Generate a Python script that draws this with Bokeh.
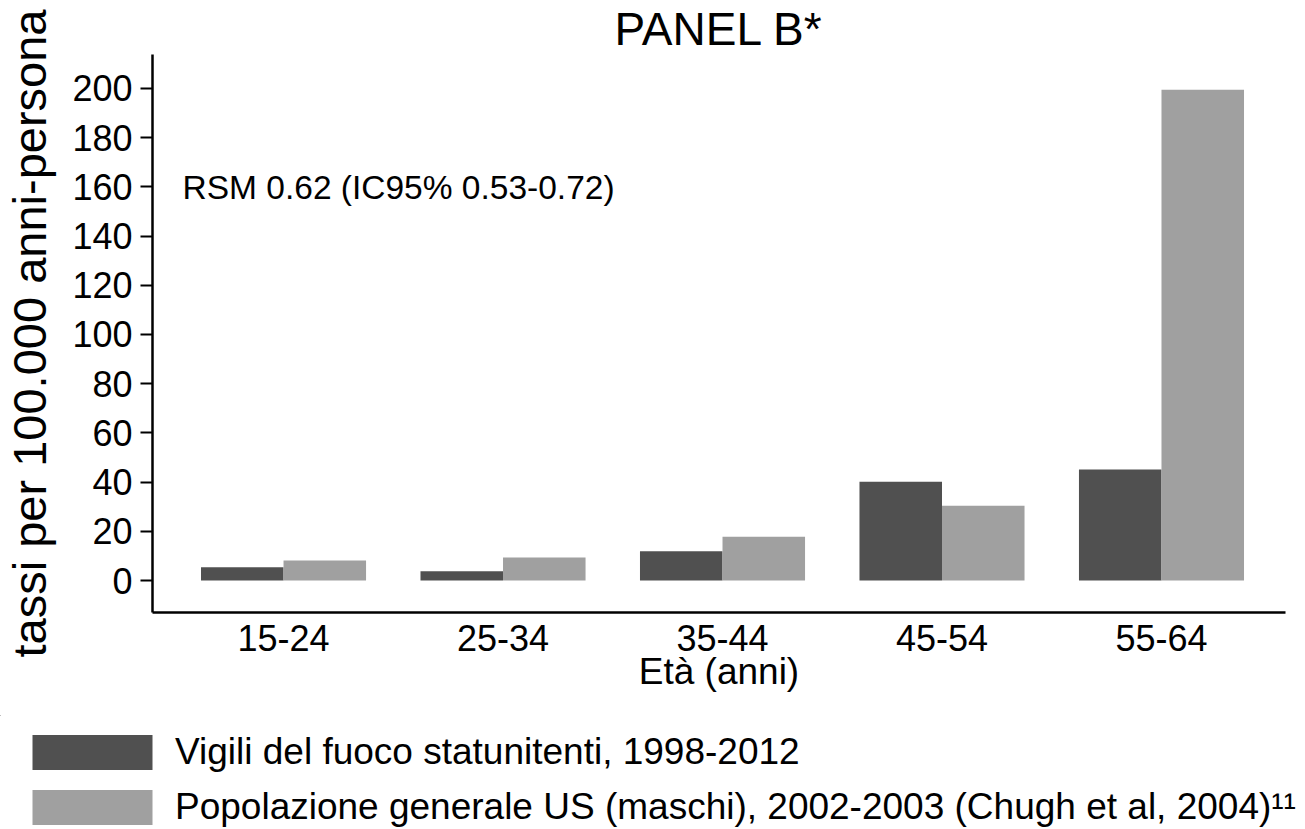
from bokeh.plotting import figure
from bokeh.layouts import column, row
from bokeh.models import ColumnDataSource, FixedTicker, Label, Legend, LegendItem, Range1d
from bokeh.transform import dodge
from bokeh.embed import file_html
from bokeh.resources import INLINE

# Age groups and rates per 100,000 person-years
age_groups = ["15-24", "25-34", "35-44", "45-54", "55-64"]
firefighters = [5.4, 3.8, 11.9, 40.1, 45.1]
us_males = [8.1, 9.4, 17.8, 30.4, 199.5]
y_ticks = [0, 20, 40, 60, 80, 100, 120, 140, 160, 180, 200]

label_ff = "Vigili del fuoco statunitenti, 1998-2012"
label_us = "Popolazione generale US (maschi), 2002-2003 (Chugh et al, 2004)\u00b9\u00b9"
smr_text = "RSM 0.62 (IC95% 0.53-0.72)"

FONT = "Liberation Sans"
DARK = "#505050"
LIGHT = "#a0a0a0"

positions = list(range(1, len(age_groups) + 1))
bar_w = 0.376

src = ColumnDataSource(dict(x=positions, ff=firefighters, us=us_males))

CHART_H = 715
p = figure(
    width=1305, height=CHART_H,
    x_range=Range1d(0.403, 5.565), y_range=Range1d(-13, 213.8),
    output_backend="svg", toolbar_location=None,
    min_border_left=152, min_border_right=20,
    min_border_top=0, min_border_bottom=CHART_H - 612,
)
p.outline_line_color = None
p.xgrid.grid_line_color = None
p.ygrid.grid_line_color = None
p.background_fill_color = "white"
p.border_fill_color = "white"

p.title.text = "PANEL B*"
p.title.align = "center"
p.title.text_font = FONT
p.title.text_font_size = "46px"
p.title.text_font_style = "normal"
p.title.text_color = "black"
p.title.standoff = 0

r_ff = p.vbar(x=dodge("x", -bar_w / 2, range=p.x_range), top="ff", bottom=0,
              width=bar_w, source=src, fill_color=DARK, line_color=None)
r_us = p.vbar(x=dodge("x", bar_w / 2, range=p.x_range), top="us", bottom=0,
              width=bar_w, source=src, fill_color=LIGHT, line_color=None)

# x axis
p.xaxis.ticker = FixedTicker(ticks=positions)
p.xaxis.major_label_overrides = {pos: lab for pos, lab in zip(positions, age_groups)}
p.xaxis.major_tick_line_color = None
p.xaxis.minor_tick_line_color = None
p.xaxis.axis_line_width = 2.5
p.xaxis.axis_line_color = "black"
p.xaxis.major_label_text_font = FONT
p.xaxis.major_label_text_font_size = "36px"
p.xaxis.major_label_text_color = "black"
p.xaxis.major_label_standoff = 6
p.xaxis.axis_label = "Età (anni)"
p.xaxis.axis_label_text_font = FONT
p.xaxis.axis_label_text_font_size = "37px"
p.xaxis.axis_label_text_font_style = "normal"
p.xaxis.axis_label_text_color = "black"
p.xaxis.axis_label_standoff = -3

# y axis
p.yaxis.ticker = FixedTicker(ticks=y_ticks)
p.yaxis.minor_tick_line_color = None
p.yaxis.major_tick_in = 0
p.yaxis.major_tick_out = 12
p.yaxis.major_tick_line_width = 2
p.yaxis.axis_line_width = 2.5
p.yaxis.axis_line_color = "black"
p.yaxis.major_label_text_font = FONT
p.yaxis.major_label_text_font_size = "36px"
p.yaxis.major_label_text_color = "black"
p.yaxis.major_label_standoff = 8
p.yaxis.axis_label = "tassi per 100.000 anni-persona"
p.yaxis.axis_label_text_font = FONT
p.yaxis.axis_label_text_font_size = "47px"
p.yaxis.axis_label_text_font_style = "normal"
p.yaxis.axis_label_text_color = "black"
p.yaxis.axis_label_standoff = 13

p.add_layout(Label(x=0.54, y=159.6, text=smr_text, text_align="left",
                   text_baseline="alphabetic", text_font=FONT,
                   text_font_size="33.5px", text_color="black"))

# legend strip below the chart; its bars sit outside the strip's view,
# only their legend swatches are shown
leg = figure(width=1305, height=829 - CHART_H, output_backend="svg",
             toolbar_location=None, min_border=0,
             x_axis_location=None, y_axis_location=None,
             x_range=Range1d(100, 101), y_range=Range1d(-2, -1))
leg.grid.visible = False
leg.outline_line_color = None
leg.background_fill_color = "white"
leg.border_fill_color = "white"
g_ff = leg.vbar(x="x", top="ff", bottom=0, width=0.1, source=src,
                fill_color=DARK, line_color=None)
g_us = leg.vbar(x="x", top="us", bottom=0, width=0.1, source=src,
                fill_color=LIGHT, line_color=None)

legend = Legend(
    items=[LegendItem(label=label_ff, renderers=[g_ff]),
           LegendItem(label=label_us, renderers=[g_us])],
    location=(17, 0), orientation="vertical",
    glyph_width=150, glyph_height=44, spacing=11, label_standoff=8,
    label_text_font=FONT, label_text_font_size="37px", label_text_color="black",
    padding=0, margin=0, border_line_color=None, background_fill_alpha=0,
)
leg.add_layout(legend)

layout = column(p, row(leg), spacing=0)
open("out.html", "w").write(file_html(layout, INLINE))
